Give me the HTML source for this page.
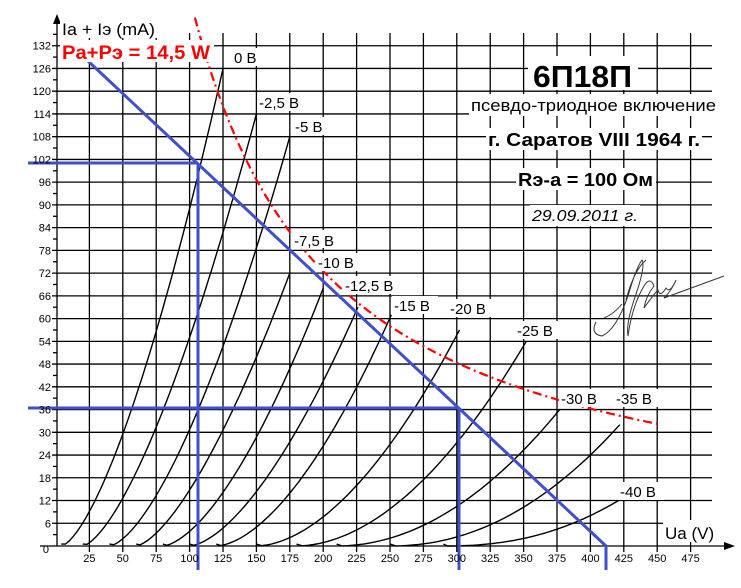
<!DOCTYPE html>
<html><head><meta charset="utf-8"><style>
body{margin:0;background:#fff;}
svg{display:block;font-family:"Liberation Sans",sans-serif;}
</style></head><body>
<svg id="s" width="741" height="588" viewBox="0 0 741 588" xmlns="http://www.w3.org/2000/svg">
<g id="grid" stroke="#000" stroke-width="1.3"></g>
<g id="curves" fill="none" stroke="#000" stroke-width="1.4"></g>
<path id="red" fill="none" stroke="#f00" stroke-width="2.2" stroke-dasharray="9,4,2,4"/>
<g stroke="#4050c8" stroke-width="3" fill="none">
<line x1="72" y1="46" x2="606" y2="546"/>
<line x1="28" y1="163" x2="198" y2="163"/>
<line x1="198" y1="163" x2="198" y2="570"/>
<line x1="28" y1="408" x2="459" y2="408"/>
<line x1="459" y1="408" x2="459" y2="570"/>
<line x1="606" y1="546" x2="606" y2="570"/>
</g>
<path d="M596,322 q-6,12 6,14 q14,-6 26,-40 q8,-28 14,-36 q4,6 -8,40 q-8,24 -6,36 q4,-30 16,-50 q6,-10 10,0 q-8,10 -10,22 q10,-14 14,-18 q2,8 8,-2 q4,6 10,-8 q-4,10 -12,18 l60,-22 M604,318 q10,-4 18,-14 M626,300 q8,-30 20,-40" stroke="#333" stroke-width="1" fill="none"/>
<g id="labels" font-size="11" fill="#000"></g>
<polygon points="57,14 53,24 61,24" fill="#000"/>
<polygon points="735,546 724,542 724,550" fill="#000"/>
<g font-size="15">
<rect x="232" y="48" width="34" height="18" fill="#fff"/><text x="234" y="63">0 В</text>
<rect x="257" y="93" width="52" height="18" fill="#fff"/><text x="259" y="108">-2,5 В</text>
<rect x="293" y="117" width="40" height="18" fill="#fff"/><text x="295" y="132">-5 В</text>
<rect x="292" y="230" width="54" height="18" fill="#fff"/><text x="294" y="246">-7,5 В</text>
<rect x="316" y="253" width="46" height="18" fill="#fff"/><text x="318" y="268">-10 В</text>
<rect x="343" y="276" width="62" height="18" fill="#fff"/><text x="345" y="291">-12,5 В</text>
<rect x="392" y="296" width="46" height="18" fill="#fff"/><text x="394" y="311">-15 В</text>
<rect x="448" y="299" width="46" height="18" fill="#fff"/><text x="450" y="314">-20 В</text>
<rect x="515" y="321" width="46" height="18" fill="#fff"/><text x="517" y="336">-25 В</text>
<rect x="559" y="389" width="46" height="18" fill="#fff"/><text x="561" y="404">-30 В</text>
<rect x="614" y="389" width="46" height="18" fill="#fff"/><text x="616" y="404">-35 В</text>
<rect x="618" y="482" width="46" height="18" fill="#fff"/><text x="620" y="497">-40 В</text>
</g>
<rect x="60" y="16" width="100" height="22" fill="#fff"/>
<text x="62" y="35" font-size="17" textLength="93" lengthAdjust="spacingAndGlyphs">Ia + Iэ (mA)</text>
<rect x="60" y="40" width="154" height="22" fill="#fff"/>
<text x="62" y="59" font-size="19" font-weight="bold" fill="#f00" textLength="148" lengthAdjust="spacingAndGlyphs">Pa+Pэ = 14,5 W</text>
<rect x="528" y="56" width="110" height="34" fill="#fff"/>
<text x="533" y="87" font-size="31" font-weight="bold" textLength="99" lengthAdjust="spacingAndGlyphs">6П18П</text>
<rect x="469" y="94" width="250" height="22" fill="#fff"/>
<text x="471" y="111" font-size="17" textLength="245" lengthAdjust="spacingAndGlyphs">псевдо-триодное включение</text>
<rect x="486" y="128" width="216" height="22" fill="#fff"/>
<text x="488" y="146" font-size="18" font-weight="bold" textLength="212" lengthAdjust="spacingAndGlyphs">г. Саратов VIII 1964 г.</text>
<rect x="516" y="168" width="140" height="22" fill="#fff"/>
<text x="518" y="186" font-size="18" font-weight="bold" textLength="135" lengthAdjust="spacingAndGlyphs">Rэ-а = 100 Ом</text>
<rect x="530" y="205" width="110" height="21" fill="#fff"/>
<text x="532" y="221" font-size="16" font-style="italic" textLength="106" lengthAdjust="spacingAndGlyphs">29.09.2011 г.</text>
<rect x="663" y="520" width="55" height="22" fill="#fff"/>
<text x="665" y="539" font-size="17">Ua (V)</text>
</svg>
<script>
var NS="http://www.w3.org/2000/svg";
function X(v){return 56+v*1.336;}
function Y(i){return 546-i*3.79;}
function el(p,t,a){var e=document.createElementNS(NS,t);for(var k in a)e.setAttribute(k,a[k]);document.getElementById(p).appendChild(e);return e;}
for(var v=25;v<=475;v+=25){el("grid","line",{x1:X(v),y1:33,x2:X(v),y2:552});
 var t=el("labels","text",{x:X(v),y:562,"text-anchor":"middle"});t.textContent=v;}
for(var i=6;i<=132;i+=6){el("grid","line",{x1:52,y1:Y(i),x2:712,y2:Y(i)});
 var t=el("labels","text",{x:51,y:Y(i)+4,"text-anchor":"end"});t.textContent=i;}
for(var i=3;i<=135;i+=6){el("grid","line",{x1:53,y1:Y(i),x2:57,y2:Y(i)});}
el("grid","line",{x1:57,y1:20,x2:57,y2:546});
el("grid","line",{x1:40,y1:546,x2:728,y2:546});
var t0=el("labels","text",{x:49,y:553,"text-anchor":"end"});t0.textContent="0";
var C=[[4,125,126,1.5],[20,150,114,1.5],[40,175,108,1.55],[60,175,72,1.5],[80,200,68,1.6],[100,226,63,1.6],[120,251,61,1.7],[150,302,57,1.8],[180,352,54,1.9],[210,377,36,2.0],[250,422,32,2.1],[290,421,12,2.3]];
C.forEach(function(c){var d="";for(var k=0;k<=40;k++){var v=c[0]+(c[1]-c[0])*k/40;var i=c[2]*Math.pow(k/40,c[3]);if(k==0)i=Math.max(i,0.5);d+=(k?"L":"M")+X(v).toFixed(1)+","+Y(i).toFixed(1);}
 el("curves","path",{d:d});});
var d="";for(var v=104;v<=450;v+=2){d+=(v==104?"M":"L")+X(v).toFixed(1)+","+Y(14500/v).toFixed(1);}
document.getElementById("red").setAttribute("d",d);
</script>
</body></html>
